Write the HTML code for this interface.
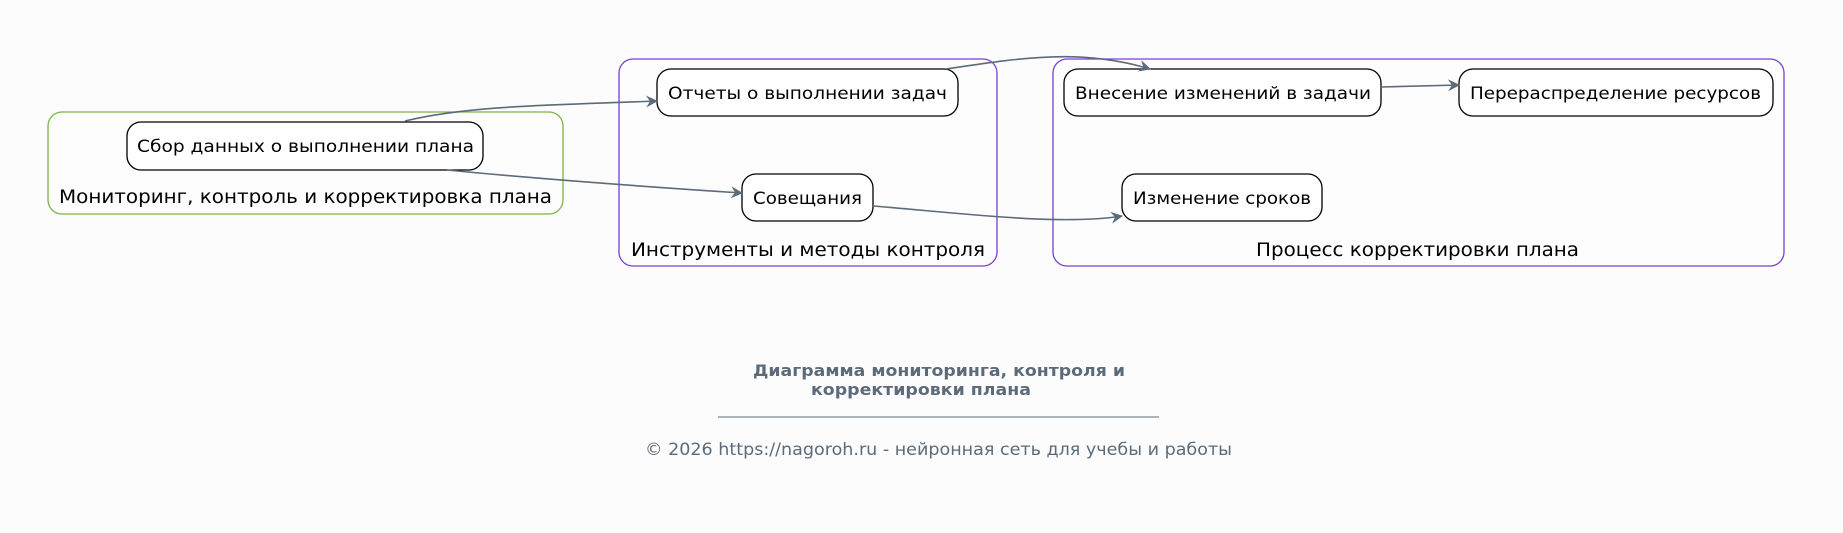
<!DOCTYPE html>
<html><head><meta charset="utf-8"><style>
html,body{margin:0;padding:0;background:#fcfcfc;}
svg{display:block;}
text{font-family:"DejaVu Sans","Liberation Sans",sans-serif;}
</style></head><body>
<svg width="1843" height="533" viewBox="0 0 1843 533" xmlns="http://www.w3.org/2000/svg">
<defs>
<marker id="a" markerWidth="12" markerHeight="12" refX="11" refY="6" orient="auto" markerUnits="userSpaceOnUse">
<path d="M0,0 L12,6 L0,12 L4,6 Z" fill="#5c6b7a"/>
</marker>
</defs>
<rect width="1843" height="533" fill="#fcfcfc"/>
<rect x="48" y="112" width="515" height="102" rx="14" fill="#fdfdfd" stroke="#7cb342" stroke-width="1.3"/>
<rect x="619" y="59" width="378" height="207" rx="14" fill="#fdfdfd" stroke="#7b3fd1" stroke-width="1.3"/>
<rect x="1053" y="59" width="731" height="207" rx="14" fill="#fdfdfd" stroke="#7b3fd1" stroke-width="1.3"/>
<g font-size="19" fill="#000">
<text x="59" y="203" textLength="493" lengthAdjust="spacingAndGlyphs">Мониторинг, контроль и корректировка плана</text>
<text x="631" y="256" textLength="354" lengthAdjust="spacingAndGlyphs">Инструменты и методы контроля</text>
<text x="1256" y="256" textLength="323" lengthAdjust="spacingAndGlyphs">Процесс корректировки плана</text>
</g>
<g fill="#fff" stroke="#000" stroke-width="1.3">
<rect x="127" y="122" width="356" height="48" rx="14"/>
<rect x="657" y="69" width="301" height="47" rx="14"/>
<rect x="742" y="174" width="131" height="47" rx="14"/>
<rect x="1064" y="69" width="317" height="47" rx="14"/>
<rect x="1459" y="69" width="314" height="47" rx="14"/>
<rect x="1122" y="174" width="200" height="47" rx="14"/>
</g>
<g font-size="17" fill="#000">
<text x="137" y="152" textLength="337" lengthAdjust="spacingAndGlyphs">Сбор данных о выполнении плана</text>
<text x="668" y="99" textLength="279" lengthAdjust="spacingAndGlyphs">Отчеты о выполнении задач</text>
<text x="753" y="204" textLength="109" lengthAdjust="spacingAndGlyphs">Совещания</text>
<text x="1075" y="99" textLength="296" lengthAdjust="spacingAndGlyphs">Внесение изменений в задачи</text>
<text x="1470" y="99" textLength="291" lengthAdjust="spacingAndGlyphs">Перераспределение ресурсов</text>
<text x="1133" y="204" textLength="178" lengthAdjust="spacingAndGlyphs">Изменение сроков</text>
</g>
<g fill="none" stroke="#5c6b7a" stroke-width="1.6">
<path d="M405,121 C470,105 560,105 657,101" marker-end="url(#a)"/>
<path d="M447,170 C550,180 650,187 742,193" marker-end="url(#a)"/>
<path d="M946,69 C1020,58 1080,48 1150,69" marker-end="url(#a)"/>
<path d="M873,206 C960,213 1060,226 1122,216" marker-end="url(#a)"/>
<path d="M1381,87 L1459,85" marker-end="url(#a)"/>
</g>
<g fill="#5c6b7a">
<text x="753" y="376" font-size="16" font-weight="bold" textLength="372" lengthAdjust="spacingAndGlyphs">Диаграмма мониторинга, контроля и</text>
<text x="811" y="395" font-size="16" font-weight="bold" textLength="220" lengthAdjust="spacingAndGlyphs">корректировки плана</text>
<line x1="718" y1="417" x2="1159" y2="417" stroke="#5c6b7a" stroke-width="1"/>
<text x="645" y="455" font-size="17" textLength="587" lengthAdjust="spacingAndGlyphs">© 2026 https://nagoroh.ru - нейронная сеть для учебы и работы</text>
</g>
</svg>
</body></html>
